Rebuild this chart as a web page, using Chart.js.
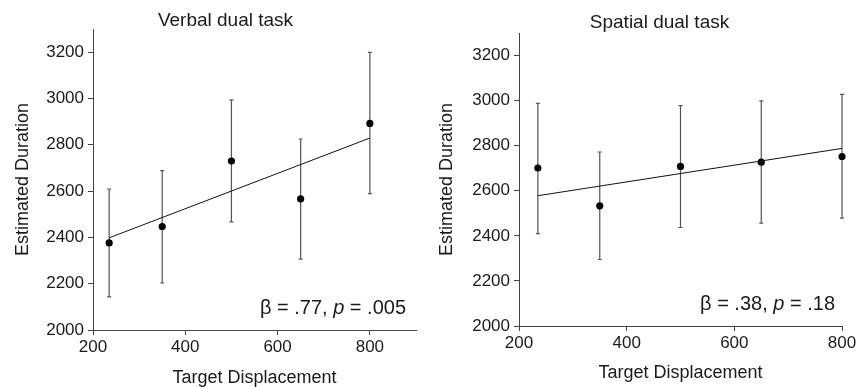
<!DOCTYPE html>
<html lang="en">
<head>
  <meta charset="UTF-8" />
  <title>Dual task duration estimates</title>
  <style>
    body { margin: 0; background: #fff; }
    .panel {
      position: absolute;
      top: 0;
      width: 433px;
      height: 387px;
    }
    #leftPanel { left: 0; }
    #rightPanel { left: 433px; }
  </style>
</head>
<body>
  <div class="panel" id="leftPanel"><canvas id="verbalChart"></canvas></div>
  <div class="panel" id="rightPanel"><canvas id="spatialChart"></canvas></div>

  <script src="https://cdn.jsdelivr.net/npm/chart.js"></script>
  <script>
    // values
    const displacement = [235, 350, 500, 650, 800];

    const verbalMean = [2376, 2447, 2730, 2566, 2892];
    const verbalLow  = [2143, 2203, 2467, 2306, 2589];
    const verbalHigh = [2609, 2688, 2994, 2825, 3199];

    const spatialMean = [2701, 2533, 2708, 2727, 2752];
    const spatialLow  = [2410, 2295, 2437, 2456, 2479];
    const spatialHigh = [2988, 2772, 2978, 2999, 3028];

    // regression line end points
    const fitX = [235, 800];
    const verbalFit = [2398, 2829];
    const spatialFit = [2578, 2788];

    const xTicks = [200, 400, 600, 800];
    const yTicks = [2000, 2200, 2400, 2600, 2800, 3000, 3200];

    const FONT = '"Liberation Sans", Arial, sans-serif';
    const INK = '#1a1a1a';
    const AXIS = '#444';

    // vertical error bars with small caps
    const errorBars = {
      id: 'errorBars',
      beforeDatasetsDraw(chart) {
        const ctx = chart.ctx;
        const yScale = chart.scales.y;
        chart.data.datasets.forEach((ds, i) => {
          if (!ds.errLow) return;
          const meta = chart.getDatasetMeta(i);
          ctx.save();
          ctx.strokeStyle = '#555';
          ctx.lineWidth = 1.2;
          meta.data.forEach((pt, j) => {
            const yLo = yScale.getPixelForValue(ds.errLow[j]);
            const yHi = yScale.getPixelForValue(ds.errHigh[j]);
            ctx.beginPath();
            ctx.moveTo(pt.x, yLo);
            ctx.lineTo(pt.x, yHi);
            ctx.moveTo(pt.x - 2, yLo);
            ctx.lineTo(pt.x + 2, yLo);
            ctx.moveTo(pt.x - 2, yHi);
            ctx.lineTo(pt.x + 2, yHi);
            ctx.stroke();
          });
          ctx.restore();
        });
      }
    };

    // panel heading, placed relative to the plot area
    const panelTitle = {
      id: 'panelTitle',
      afterDraw(chart, args, opts) {
        if (!opts.text) return;
        const ctx = chart.ctx;
        const area = chart.chartArea;
        ctx.save();
        ctx.fillStyle = INK;
        ctx.font = '19px ' + FONT;
        ctx.textAlign = 'center';
        ctx.textBaseline = 'middle';
        ctx.fillText(opts.text, (area.left + area.right) / 2 + opts.dx, area.top - opts.dy);
        ctx.restore();
      }
    };

    // "β = .77, p = .005" in the lower right corner
    const statLabel = {
      id: 'statLabel',
      afterDraw(chart, args, opts) {
        if (!opts.beta) return;
        const ctx = chart.ctx;
        const area = chart.chartArea;
        const parts = [
          ['β = ' + opts.beta + ', ', 'normal'],
          ['p', 'italic'],
          [' = ' + opts.p, 'normal']
        ];
        ctx.save();
        ctx.fillStyle = INK;
        ctx.textBaseline = 'middle';
        let total = 0;
        parts.forEach(p => {
          ctx.font = p[1] + ' 20px ' + FONT;
          total += ctx.measureText(p[0]).width;
        });
        let x = area.right - opts.right - total;
        const y = area.bottom - 22;
        parts.forEach(p => {
          ctx.font = p[1] + ' 20px ' + FONT;
          ctx.fillText(p[0], x, y);
          x += ctx.measureText(p[0]).width;
        });
        ctx.restore();
      }
    };

    function makeChart(id, o) {
      const ctx = document.getElementById(id).getContext('2d');
      return new Chart(ctx, {
        type: 'scatter',
        data: {
          datasets: [{
            label: 'fit',
            data: fitX.map((x, i) => ({ x: x, y: o.fit[i] })),
            showLine: true,
            borderColor: '#111',
            borderWidth: 1,
            pointRadius: 0,
            clip: false
          }, {
            label: 'mean',
            data: displacement.map((x, i) => ({ x: x, y: o.mean[i] })),
            errLow: o.low,
            errHigh: o.high,
            pointRadius: 3.6,
            pointBackgroundColor: '#000',
            pointBorderColor: '#000',
            pointBorderWidth: 0,
            clip: false
          }]
        },
        options: {
          responsive: true,
          maintainAspectRatio: false,
          animation: false,
          layout: { padding: { left: 0, right: o.padRight, top: o.padTop, bottom: 0 } },
          plugins: {
            legend: { display: false },
            tooltip: { enabled: false },
            panelTitle: { text: o.title, dx: o.titleDx, dy: o.titleDy },
            statLabel: { beta: o.beta, p: o.p, right: o.statRight }
          },
          scales: {
            x: {
              type: 'linear',
              min: 200,
              max: o.xMax,
              afterBuildTicks: s => { s.ticks = xTicks.map(v => ({ value: v })); },
              afterFit: s => { s.height = o.xHeight; },
              ticks: {
                color: INK,
                font: { family: FONT, size: 17 },
                padding: 2,
                callback: v => String(v)
              },
              grid: { drawOnChartArea: false, drawTicks: true, tickLength: 5, color: AXIS },
              border: { color: AXIS, width: 1 },
              title: {
                display: true,
                text: 'Target Displacement',
                color: INK,
                font: { family: FONT, size: 18, lineHeight: 1 },
                padding: { top: 0, bottom: o.xTitleBottom }
              }
            },
            y: {
              type: 'linear',
              min: 2000,
              max: 3300,
              afterBuildTicks: s => { s.ticks = yTicks.map(v => ({ value: v })); },
              afterFit: s => { s.width = o.yWidth; },
              ticks: {
                color: INK,
                font: { family: FONT, size: 17 },
                padding: 4,
                callback: v => String(v)
              },
              grid: { drawOnChartArea: false, drawTicks: true, tickLength: 5, color: AXIS },
              border: { color: AXIS, width: 1 },
              title: {
                display: true,
                text: 'Estimated Duration',
                color: INK,
                font: { family: FONT, size: 18, lineHeight: 1.2 },
                padding: { top: o.yTitleTop, bottom: 0 }
              }
            }
          }
        },
        plugins: [errorBars, panelTitle, statLabel]
      });
    }

    makeChart('verbalChart', {
      title: 'Verbal dual task',
      titleDx: -29, titleDy: 8,
      mean: verbalMean, low: verbalLow, high: verbalHigh, fit: verbalFit,
      beta: '.77', p: '.005', statRight: 10,
      xMax: 900,
      padRight: 17,
      padTop: 29,
      yWidth: 93,
      xHeight: 57,
      xTitleBottom: 0,
      yTitleTop: 12
    });

    makeChart('spatialChart', {
      title: 'Spatial dual task',
      titleDx: -21, titleDy: 10,
      mean: spatialMean, low: spatialLow, high: spatialHigh, fit: spatialFit,
      beta: '.38', p: '.18', statRight: 7,
      xMax: 800,
      padRight: 24,
      padTop: 33,
      yWidth: 86,
      xHeight: 61,
      xTitleBottom: 5,
      yTitleTop: 3
    });
  </script>
</body>
</html>
